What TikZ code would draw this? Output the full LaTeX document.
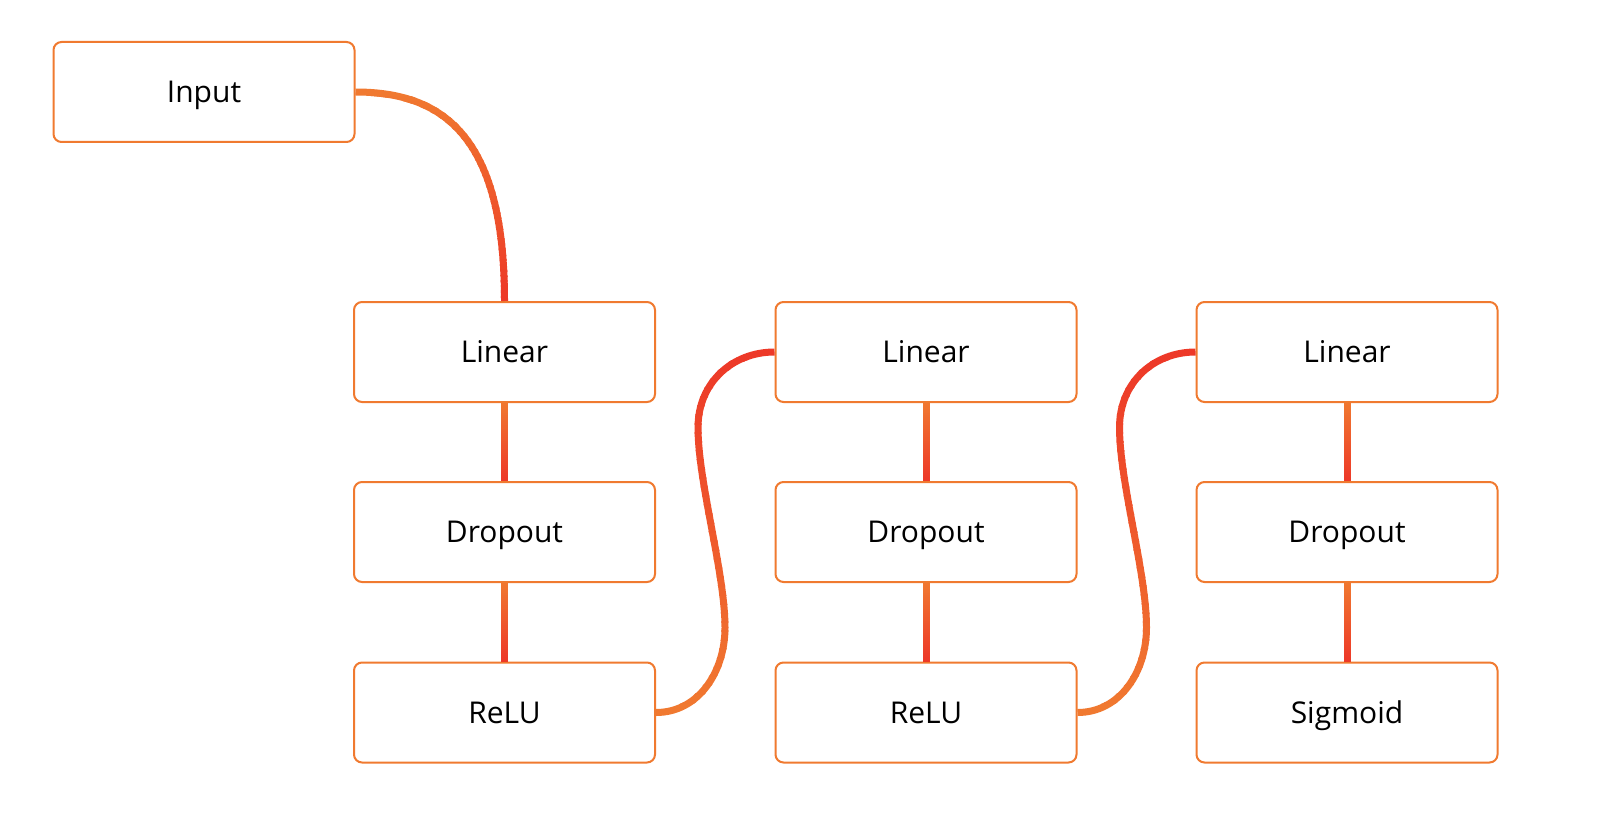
\documentclass[tikz,border=0pt]{standalone}
\usepackage{fontspec}
\setmainfont{Open Sans}
\usetikzlibrary{calc}
\definecolor{lorange}{RGB}{240,122,48}
\definecolor{lred}{RGB}{237,56,40}
\tikzset{
  layer/.style={draw=lorange, line width=2pt, rounded corners=8pt,
    minimum width=301pt, minimum height=100pt, fill=white, inner sep=0pt,
    text height=21.5pt, text depth=0pt,
    font=\fontsize{30}{36}\selectfont, text=black},
  link/.style={line width=7pt},
}
% #1 path, #2 y of source (orange), #3 y of target (red)
\newcommand{\gradlink}[3]{%
  \foreach \i in {0,...,39}{%
    \pgfmathsetmacro{\ya}{#2+(#3-#2)*\i/40 - (\i==0)*sign(#3-#2)*12}%
    \pgfmathsetmacro{\yb}{#2+(#3-#2)*(\i+1)/40 + (\i==39)*sign(#3-#2)*12}%
    \pgfmathsetmacro{\ylo}{min(\ya,\yb)-0.6}%
    \pgfmathsetmacro{\yhi}{max(\ya,\yb)+0.6}%
    \pgfmathtruncatemacro{\pc}{100*(1-(\i+0.5)/40)}%
    \begin{scope}
      \clip (0,\ylo) rectangle (1600,\yhi);
      \draw[link, draw=lorange!\pc!lred] #1;
    \end{scope}
  }%
}
\begin{document}
\begin{tikzpicture}[x=1pt,y=-1pt]
\useasboundingbox[fill=white] (0,0) rectangle (1600,826);
% nodes
\node[layer] (in) at (204,92) {Input};
\node[layer] (l1) at (504.5,352) {Linear};
\node[layer] (d1) at (504.5,532) {Dropout};
\node[layer] (r1) at (504.5,712.5) {ReLU};
\node[layer] (l2) at (926,352) {Linear};
\node[layer] (d2) at (926,532) {Dropout};
\node[layer] (r2) at (926,712.5) {ReLU};
\node[layer] (l3) at (1347,352) {Linear};
\node[layer] (d3) at (1347,532) {Dropout};
\node[layer] (s3) at (1347,712.5) {Sigmoid};
% connectors
\gradlink{(in.east) .. controls +(90,0) and +(0,-162) .. (l1.north)}{92}{302}
\gradlink{(l1.south) -- (d1.north)}{402}{482}
\gradlink{(d1.south) -- (r1.north)}{582}{662}
\gradlink{(r1.east) .. controls +(42,0) and +(0,45) .. ($(r1.east)+(69,-85)$)
  .. controls ($(r1.east)+(69,-140)$) and ($(r1.east)+(42,-230)$) .. ($(r1.east)+(42,-285)$)
  .. controls ($(r1.east)+(42,-330)$) and +(-42,0) .. (l2.west)}{712}{352}
\gradlink{(l2.south) -- (d2.north)}{402}{482}
\gradlink{(d2.south) -- (r2.north)}{582}{662}
\gradlink{(r2.east) .. controls +(42,0) and +(0,45) .. ($(r2.east)+(69,-85)$)
  .. controls ($(r2.east)+(69,-140)$) and ($(r2.east)+(42,-230)$) .. ($(r2.east)+(42,-285)$)
  .. controls ($(r2.east)+(42,-330)$) and +(-42,0) .. (l3.west)}{712}{352}
\gradlink{(l3.south) -- (d3.north)}{402}{482}
\gradlink{(d3.south) -- (s3.north)}{582}{662}
\end{tikzpicture}
\end{document}
